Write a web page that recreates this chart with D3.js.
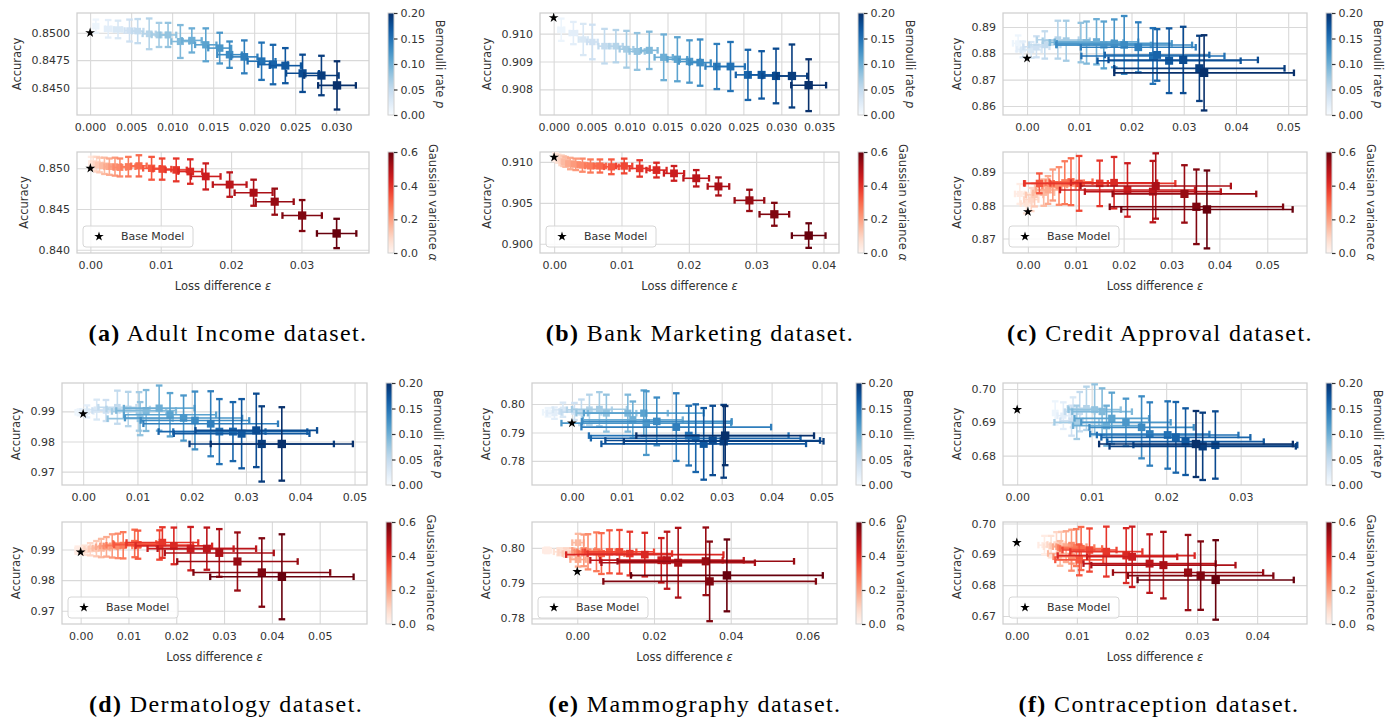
<!DOCTYPE html>
<html><head><meta charset="utf-8">
<script src="https://cdn.jsdelivr.net/npm/d3@7"></script>
<style>
body{margin:0;background:#fff;}
svg{display:block;}
text{font-family:"DejaVu Sans",sans-serif;}
</style>
</head><body>
<svg id="chart" width="1385" height="719"></svg>
<script>
// ---------------- DATA ----------------
// Noise rates (colour values) for each point, in order
const bernRates  = [0.01,0.02,0.03,0.04,0.05,0.06,0.07,0.08,0.09,0.10,0.11,0.12,0.13,0.14,0.15,0.16,0.17,0.18,0.19,0.20];
const gaussRates = [0.03,0.06,0.09,0.12,0.15,0.18,0.21,0.24,0.27,0.30,0.33,0.36,0.39,0.42,0.45,0.48,0.51,0.54,0.57,0.60];

// rows: [loss difference, accuracy, loss-diff error, accuracy error]
const adultBern = [
 [0.0007,0.8506,0.0003,0.0006],[0.0022,0.85036,0.0004,0.0008],[0.0034,0.8503,0.0005,0.0008],[0.0048,0.8502,0.0006,0.0010],
 [0.0058,0.85015,0.0007,0.0011],[0.0072,0.8499,0.0008,0.0014],[0.0084,0.8498,0.0009,0.0011],[0.0095,0.8498,0.0010,0.0011],
 [0.0110,0.8492,0.0011,0.0015],[0.0124,0.8493,0.0012,0.0011],[0.0141,0.8489,0.0013,0.0015],[0.0158,0.8486,0.0014,0.0014],
 [0.0170,0.8480,0.0015,0.0012],[0.0188,0.8478,0.0016,0.0015],[0.0209,0.8474,0.0017,0.0017],[0.0223,0.8471,0.0018,0.0018],
 [0.0238,0.8470,0.0019,0.0016],[0.0259,0.8463,0.0020,0.0017],[0.0282,0.8461,0.0021,0.0018],[0.0301,0.8452,0.0023,0.0022]];
const adultGauss = [
 [0.0001,0.8506,0.0002,0.0008],[0.0004,0.8506,0.0003,0.0008],[0.0009,0.8505,0.0004,0.0009],[0.0013,0.8504,0.0005,0.0009],
 [0.0020,0.8503,0.0006,0.0010],[0.0027,0.8502,0.0007,0.0010],[0.0035,0.8502,0.0008,0.0011],[0.0042,0.8501,0.0009,0.0011],
 [0.0054,0.8502,0.0010,0.0012],[0.0069,0.8503,0.0011,0.0013],[0.0087,0.8500,0.0012,0.0014],[0.0102,0.8499,0.0013,0.0013],
 [0.0122,0.8498,0.0015,0.0014],[0.0142,0.8496,0.0017,0.0015],[0.0164,0.8490,0.0021,0.0016],[0.0198,0.8480,0.0024,0.0015],
 [0.0232,0.8470,0.0027,0.0016],[0.0262,0.8459,0.0027,0.0016],[0.0301,0.8442,0.0028,0.0019],[0.0350,0.8420,0.0028,0.0018]];
const bankBern = [
 [0.0010,0.91014,0.0004,0.00040],[0.0026,0.91002,0.0005,0.00040],[0.0039,0.90979,0.0006,0.00056],[0.0051,0.90970,0.0007,0.00062],
 [0.0067,0.90955,0.0008,0.00062],[0.0082,0.90955,0.0009,0.00058],[0.0096,0.90944,0.0009,0.00066],[0.0110,0.90936,0.0010,0.00066],
 [0.0126,0.90940,0.0011,0.00067],[0.0145,0.90915,0.0012,0.00082],[0.0163,0.90908,0.0013,0.00079],[0.0179,0.90900,0.0014,0.00076],
 [0.0193,0.90896,0.0014,0.00083],[0.0215,0.90882,0.0015,0.00081],[0.0233,0.90882,0.0019,0.00088],[0.0256,0.90852,0.0016,0.00090],
 [0.0274,0.90852,0.0017,0.00085],[0.0293,0.90848,0.0018,0.00098],[0.0314,0.90848,0.0020,0.00113],[0.0336,0.90815,0.0023,0.00093]];
const bankGauss = [
 [0.0002,0.9106,0.0002,0.0005],[0.0006,0.9104,0.0003,0.0005],[0.0011,0.9102,0.0004,0.0006],[0.0014,0.9101,0.0004,0.0006],
 [0.0017,0.9100,0.0005,0.0006],[0.0024,0.9098,0.0006,0.0007],[0.0032,0.9097,0.0006,0.0007],[0.0042,0.9096,0.0007,0.0008],
 [0.0054,0.9095,0.0008,0.0008],[0.0068,0.9095,0.0009,0.0008],[0.0085,0.9094,0.0011,0.0009],[0.0104,0.9095,0.0012,0.0009],
 [0.0127,0.9092,0.0015,0.0010],[0.0152,0.9090,0.0015,0.0009],[0.0178,0.9086,0.0015,0.0009],[0.0211,0.9080,0.0019,0.0010],
 [0.0244,0.9070,0.0016,0.0011],[0.0290,0.9053,0.0022,0.0013],[0.0327,0.9036,0.0022,0.0014],[0.0378,0.9010,0.0025,0.0015]];
const creditBern = [
 [-0.0017,0.8838,0.0010,0.0030],[-0.0008,0.8815,0.0012,0.0030],[0.0008,0.8813,0.0020,0.0030],[0.0018,0.8825,0.0025,0.0040],
 [0.0034,0.8832,0.0030,0.0052],[0.0059,0.8852,0.0040,0.0072],[0.0075,0.8848,0.0045,0.0076],[0.0103,0.8841,0.0060,0.0075],
 [0.0114,0.8841,0.0070,0.0080],[0.0133,0.8844,0.0080,0.0086],[0.0147,0.8832,0.0090,0.0089],[0.0167,0.8838,0.0110,0.0091],
 [0.0186,0.8832,0.0130,0.0110],[0.0213,0.8823,0.0110,0.0095],[0.0241,0.8790,0.0137,0.0106],[0.0249,0.8794,0.0100,0.0098],
 [0.0272,0.8772,0.0137,0.0123],[0.0299,0.8775,0.0143,0.0126],[0.0330,0.8743,0.0163,0.0124],[0.0339,0.8726,0.0172,0.0143]];
const creditGauss = [
 [-0.0017,0.8835,0.0010,0.0030],[-0.0003,0.8806,0.0012,0.0030],[0.0007,0.8818,0.0015,0.0035],[0.0014,0.8832,0.0018,0.0035],
 [0.0033,0.8839,0.0022,0.0040],[0.0042,0.8847,0.0025,0.0042],[0.0052,0.8862,0.0030,0.0047],[0.0065,0.8859,0.0035,0.0057],
 [0.0077,0.8869,0.0040,0.0065],[0.0090,0.8872,0.0045,0.0071],[0.0024,0.8867,0.0030,0.0030],[0.0107,0.8867,0.0060,0.0083],
 [0.0150,0.8867,0.0158,0.0069],[0.0180,0.8869,0.0090,0.0078],[0.0208,0.8847,0.0141,0.0081],[0.0261,0.8842,0.0142,0.0093],
 [0.0267,0.8859,0.0157,0.0099],[0.0327,0.8835,0.0150,0.0087],[0.0352,0.8796,0.0181,0.0113],[0.0374,0.8788,0.0179,0.0118]];
const dermBern = [
 [-0.0006,0.9897,0.0008,0.0010],[0.0007,0.9900,0.0012,0.0020],[0.0025,0.9906,0.0018,0.0033],[0.0042,0.9903,0.0025,0.0035],
 [0.0063,0.9914,0.0035,0.0055],[0.0083,0.9908,0.0040,0.0057],[0.0103,0.9900,0.0050,0.0064],[0.0105,0.9876,0.0060,0.0055],
 [0.0116,0.9903,0.0055,0.0068],[0.0140,0.9911,0.0065,0.0075],[0.0160,0.9889,0.0085,0.0072],[0.0185,0.9878,0.0108,0.0075],
 [0.0206,0.9870,0.0100,0.0096],[0.0235,0.9859,0.0124,0.0108],[0.0251,0.9833,0.0085,0.0108],[0.0276,0.9833,0.0137,0.0098],
 [0.0292,0.9826,0.0125,0.0115],[0.0319,0.9837,0.0112,0.0122],[0.0329,0.9792,0.0133,0.0125],[0.0366,0.9792,0.0131,0.0122]];
const dermGauss = [
 [-0.0006,0.9898,0.0005,0.0012],[0.0008,0.9898,0.0008,0.0015],[0.0020,0.9901,0.0012,0.0020],[0.0033,0.9903,0.0015,0.0025],
 [0.0043,0.9905,0.0018,0.0030],[0.0054,0.9909,0.0022,0.0032],[0.0066,0.9912,0.0025,0.0038],[0.0078,0.9912,0.0030,0.0040],
 [0.0089,0.9914,0.0035,0.0043],[0.0113,0.9920,0.0045,0.0045],[0.0120,0.9916,0.0050,0.0046],[0.0165,0.9915,0.0070,0.0048],
 [0.0171,0.9923,0.0075,0.0050],[0.0195,0.9912,0.0080,0.0060],[0.0230,0.9903,0.0090,0.0071],[0.0264,0.9903,0.0103,0.0069],
 [0.0290,0.9889,0.0114,0.0078],[0.0328,0.9861,0.0126,0.0095],[0.0379,0.9825,0.0143,0.0112],[0.0421,0.9811,0.0150,0.0139]];
const mammoBern = [
 [-0.0048,0.7971,0.0010,0.0015],[-0.0035,0.7968,0.0015,0.0020],[-0.0018,0.7980,0.0020,0.0025],[0.0005,0.7974,0.0030,0.0030],
 [0.0019,0.7971,0.0040,0.0045],[0.0035,0.7980,0.0045,0.0053],[0.0055,0.7982,0.0055,0.0060],[0.0069,0.7968,0.0060,0.0065],
 [0.0112,0.7968,0.0080,0.0065],[0.0122,0.7945,0.0100,0.0064],[0.0144,0.7968,0.0120,0.0080],[0.0149,0.7933,0.0170,0.0112],
 [0.0170,0.7939,0.0150,0.0084],[0.0209,0.7919,0.0190,0.0119],[0.0234,0.7889,0.0200,0.0105],[0.0248,0.7880,0.0210,0.0119],
 [0.0264,0.7860,0.0205,0.0126],[0.0282,0.7872,0.0215,0.0122],[0.0304,0.7869,0.0200,0.0128],[0.0307,0.7889,0.0178,0.0104]];
const mammoGauss = [
 [-0.0079,0.7993,0.0010,0.0008],[-0.0046,0.7989,0.0015,0.0010],[-0.0029,0.7987,0.0020,0.0012],[-0.0013,0.7984,0.0025,0.0015],
 [0.0002,0.8015,0.0015,0.0025],[0.0002,0.7967,0.0020,0.0020],[0.0017,0.7993,0.0030,0.0045],[0.0028,0.7989,0.0035,0.0050],
 [0.0050,0.7989,0.0050,0.0055],[0.0063,0.7984,0.0060,0.0058],[0.0084,0.7989,0.0070,0.0061],[0.0110,0.7989,0.0090,0.0062],
 [0.0137,0.7984,0.0110,0.0062],[0.0176,0.7981,0.0205,0.0062],[0.0219,0.7965,0.0160,0.0063],[0.0234,0.7965,0.0200,0.0081],
 [0.0263,0.7958,0.0200,0.0099],[0.0335,0.7962,0.0230,0.0096],[0.0345,0.7905,0.0277,0.0113],[0.0390,0.7922,0.0250,0.0102]];
const contraBern = [
 [0.0051,0.6928,0.0003,0.0035],[0.0062,0.6920,0.0008,0.0040],[0.0075,0.6930,0.0010,0.0045],[0.0073,0.6905,0.0015,0.0045],
 [0.0084,0.6932,0.0020,0.0059],[0.0093,0.6942,0.0025,0.0065],[0.0080,0.6900,0.0030,0.0050],[0.0104,0.6938,0.0035,0.0076],
 [0.0114,0.6932,0.0040,0.0070],[0.0120,0.6890,0.0045,0.0060],[0.0127,0.6912,0.0050,0.0077],[0.0146,0.6900,0.0060,0.0071],
 [0.0167,0.6885,0.0070,0.0093],[0.0178,0.6865,0.0080,0.0095],[0.0202,0.6862,0.0095,0.0101],[0.0213,0.6855,0.0100,0.0106],
 [0.0226,0.6842,0.0105,0.0100],[0.0266,0.6832,0.0110,0.0101],[0.0249,0.6828,0.0125,0.0101],[0.0240,0.6835,0.0130,0.0099]];
const contraGauss = [
 [0.0046,0.6930,0.0010,0.0030],[0.0057,0.6925,0.0012,0.0035],[0.0066,0.6932,0.0015,0.0040],[0.0074,0.6928,0.0018,0.0045],
 [0.0072,0.6903,0.0020,0.0040],[0.0082,0.6925,0.0022,0.0050],[0.0091,0.6925,0.0025,0.0055],[0.0091,0.6892,0.0030,0.0045],
 [0.0099,0.6922,0.0030,0.0060],[0.0107,0.6919,0.0035,0.0070],[0.0104,0.6882,0.0040,0.0050],[0.0121,0.6914,0.0045,0.0070],
 [0.0149,0.6909,0.0060,0.0081],[0.0182,0.6896,0.0114,0.0089],[0.0192,0.6892,0.0075,0.0098],[0.0221,0.6870,0.0110,0.0095],
 [0.0244,0.6865,0.0120,0.0108],[0.0285,0.6841,0.0125,0.0122],[0.0306,0.6831,0.0121,0.0111],[0.0331,0.6817,0.0130,0.0129]];

// Base model: [loss difference, accuracy]
const adultBase  = [0, 0.8500];
const bankBase   = [0, 0.91057];
const creditBase = [0, 0.8781];
const dermBase   = [0, 0.9892];
const mammoBase  = [0, 0.7933];
const contraBase = [0, 0.6938];

// Tick values
const adultBernXTicks  = [0,0.005,0.010,0.015,0.020,0.025,0.030];
const adultBernYTicks  = [0.8450,0.8475,0.8500];
const adultGaussXTicks = [0,0.01,0.02,0.03];
const adultGaussYTicks = [0.840,0.845,0.850];
const bankBernXTicks   = [0,0.005,0.010,0.015,0.020,0.025,0.030,0.035];
const bankBernYTicks   = [0.908,0.909,0.910];
const bankGaussXTicks  = [0,0.01,0.02,0.03,0.04];
const bankGaussYTicks  = [0.900,0.905,0.910];
const creditXTicks     = [0,0.01,0.02,0.03,0.04,0.05];
const creditBernYTicks = [0.86,0.87,0.88,0.89];
const creditGaussYTicks= [0.87,0.88,0.89];
const dermXTicks       = [0,0.01,0.02,0.03,0.04,0.05];
const dermYTicks       = [0.97,0.98,0.99];
const mammoBernXTicks  = [0,0.01,0.02,0.03,0.04,0.05];
const mammoGaussXTicks = [0,0.02,0.04,0.06];
const mammoYTicks      = [0.78,0.79,0.80];
const contraBernXTicks = [0,0.01,0.02,0.03];
const contraGaussXTicks= [0,0.01,0.02,0.03,0.04];
const contraBernYTicks = [0.68,0.69,0.70];
const contraGaussYTicks= [0.67,0.68,0.69,0.70];
const bernCbTicks  = [0,0.05,0.10,0.15,0.20];
const gaussCbTicks = [0,0.2,0.4,0.6];

const captions = [
  ["(a)", " Adult Income dataset."],
  ["(b)", " Bank Marketing dataset."],
  ["(c)", " Credit Approval dataset."],
  ["(d)", " Dermatology dataset."],
  ["(e)", " Mammography dataset."],
  ["(f)", " Contraception dataset."]
];

// ---------------- DRAWING ----------------
const svg = d3.select("#chart");
const defs = svg.append("defs");
let uid = 0;
const TXT = "#333333";
const GRID = "#d9d9d9";

function drawPanel(p) {
  const id = uid++;
  const g = svg.append("g");
  const x = d3.scaleLinear().domain(p.xDomain).range([p.left, p.right]);
  const y = d3.scaleLinear().domain(p.yDomain).range([p.bottom, p.top]);
  const w = p.right - p.left, h = p.bottom - p.top;

  // grid
  g.append("g").attr("transform", `translate(0,${p.bottom})`)
    .call(d3.axisBottom(x).tickValues(p.xTicks).tickSize(-h).tickFormat(""))
    .call(s => { s.select(".domain").remove(); s.selectAll("line").attr("stroke", GRID).attr("stroke-width", 1.1); });
  g.append("g").attr("transform", `translate(${p.left},0)`)
    .call(d3.axisLeft(y).tickValues(p.yTicks).tickSize(-w).tickFormat(""))
    .call(s => { s.select(".domain").remove(); s.selectAll("line").attr("stroke", GRID).attr("stroke-width", 1.1); });

  // tick labels
  g.append("g").attr("transform", `translate(0,${p.bottom})`)
    .call(d3.axisBottom(x).tickValues(p.xTicks).tickSize(0).tickPadding(8).tickFormat(d3.format(p.xFmt)))
    .call(s => { s.select(".domain").remove(); s.selectAll("text").attr("fill", TXT).style("font-size", "11px").style("font-family", "DejaVu Sans"); });
  const ya = g.append("g").attr("transform", `translate(${p.left},0)`)
    .call(d3.axisLeft(y).tickValues(p.yTicks).tickSize(0).tickPadding(7).tickFormat(d3.format(p.yFmt)))
    .call(s => { s.select(".domain").remove(); s.selectAll("text").attr("fill", TXT).style("font-size", "11px").style("font-family", "DejaVu Sans"); });
  let maxW = 0;
  ya.selectAll("text").each(function(){ maxW = Math.max(maxW, this.getComputedTextLength()); });

  // frame
  g.append("rect").attr("x", p.left).attr("y", p.top).attr("width", w).attr("height", h)
    .attr("fill", "none").attr("stroke", "#cfcfcf").attr("stroke-width", 1.25);

  // y label
  g.append("text").attr("transform", `translate(${p.left - 7 - maxW - 11},${(p.top + p.bottom) / 2}) rotate(-90)`)
    .attr("text-anchor", "middle").attr("fill", TXT).style("font-size", "11.5px").text("Accuracy");
  if (p.xLabel) {
    const t = g.append("text").attr("x", (p.left + p.right) / 2).attr("y", p.bottom + 37)
      .attr("text-anchor", "middle").attr("fill", TXT).style("font-size", "11.5px");
    t.append("tspan").text("Loss difference ");
    t.append("tspan").style("font-style", "italic").text("ε");
  }

  // clip
  defs.append("clipPath").attr("id", "clip" + id).append("rect")
    .attr("x", p.left).attr("y", p.top).attr("width", w).attr("height", h);
  const pg = g.append("g").attr("clip-path", `url(#clip${id})`);

  // points with error bars
  const cap = 3.3;
  p.data.forEach((d, i) => {
    const [vx, vy, ex, ey] = d;
    const t = p.rates[i] / p.cmax;
    const c = p.interp(t);
    const s = 6 + 2.4 * t;
    const e = pg.append("g").attr("stroke", c);
    const px = x(vx), py = y(vy);
    const x0 = x(vx - ex), x1 = x(vx + ex), y0 = y(vy - ey), y1 = y(vy + ey);
    e.append("line").attr("x1", x0).attr("x2", x1).attr("y1", py).attr("y2", py).attr("stroke-width", 1.6);
    e.append("line").attr("x1", px).attr("x2", px).attr("y1", y0).attr("y2", y1).attr("stroke-width", 1.6);
    [x0, x1].forEach(xx => e.append("line").attr("x1", xx).attr("x2", xx).attr("y1", py - cap).attr("y2", py + cap).attr("stroke-width", 2.3));
    [y0, y1].forEach(yy => e.append("line").attr("x1", px - cap).attr("x2", px + cap).attr("y1", yy).attr("y2", yy).attr("stroke-width", 2.3));
    pg.append("rect").attr("x", px - s / 2).attr("y", py - s / 2).attr("width", s).attr("height", s).attr("fill", c);
  });

  // base model star
  pg.append("path").attr("d", d3.symbol(d3.symbolStar, 30)())
    .attr("transform", `translate(${x(p.base[0])},${y(p.base[1])})`).attr("fill", "#000");

  // legend
  if (p.legend) {
    const lx = p.left + 6, ly = p.bottom - 6 - 21;
    g.append("rect").attr("x", lx).attr("y", ly).attr("width", 110).attr("height", 21).attr("rx", 3)
      .attr("fill", "#fff").attr("fill-opacity", 0.85).attr("stroke", "#d6d6d6");
    g.append("path").attr("d", d3.symbol(d3.symbolStar, 28)())
      .attr("transform", `translate(${lx + 16},${ly + 10.5})`).attr("fill", "#000");
    g.append("text").attr("x", lx + 38).attr("y", ly + 10.5).attr("dy", "0.35em")
      .attr("fill", TXT).style("font-size", "11px").text("Base Model");
  }

  // colorbar
  const cbx = p.right + 19, cbw = 6;
  const gid = "grad" + id;
  const grad = defs.append("linearGradient").attr("id", gid).attr("x1", 0).attr("y1", 1).attr("x2", 0).attr("y2", 0);
  d3.range(0, 1.0001, 0.05).forEach(t => grad.append("stop").attr("offset", t).attr("stop-color", p.interp(t)));
  g.append("rect").attr("x", cbx).attr("y", p.top).attr("width", cbw).attr("height", h).attr("fill", `url(#${gid})`)
    .attr("stroke", "#d0d0d0").attr("stroke-width", 1);
  const cb = d3.scaleLinear().domain([0, p.cmax]).range([p.bottom, p.top]);
  const ca = g.append("g").attr("transform", `translate(${cbx + cbw},0)`)
    .call(d3.axisRight(cb).tickValues(p.cbTicks).tickSize(3.5).tickPadding(3).tickFormat(d3.format(p.cbFmt)))
    .call(s => { s.select(".domain").remove(); s.selectAll("line").attr("stroke", "#333").attr("stroke-width", 1.2);
                 s.selectAll("text").attr("fill", TXT).style("font-size", "11px").style("font-family", "DejaVu Sans"); });
  let cw = 0;
  ca.selectAll("text").each(function(){ cw = Math.max(cw, this.getComputedTextLength()); });
  const lt = g.append("text").attr("transform", `translate(${cbx + cbw + 6.5 + cw + 11},${(p.top + p.bottom) / 2}) rotate(90)`)
    .attr("text-anchor", "middle").attr("fill", TXT).style("font-size", "11.5px");
  lt.append("tspan").text(p.cbLabel[0]);
  lt.append("tspan").style("font-style", "italic").text(p.cbLabel[1]);
}

const cols = [
  {l1: 77, r1: 369, l2: 62, r2: 367, cx1: 228, cx2: 226},
  {l1: 540, r1: 839, l2: 532, r2: 837, cx1: 700, cx2: 695},
  {l1: 1003, r1: 1307, l2: 1003, r2: 1307, cx1: 1160, cx2: 1159}
];
const rowsY = [{t1: 13, b1: 115, t2: 152, b2: 253, cap: 341}, {t1: 383, b1: 485, t2: 522, b2: 624, cap: 712}];

const datasets = [
  {bern: adultBern, gauss: adultGauss, base: adultBase,
   bx: adultBernXTicks, by: adultBernYTicks, gx: adultGaussXTicks, gy: adultGaussYTicks,
   bxd: [-0.0016, 0.034], byd: [0.8425, 0.8518], gxd: [-0.0019, 0.0396], gyd: [0.8396, 0.8520],
   bxf: ".3f", byf: ".4f", gxf: ".2f", gyf: ".3f"},
  {bern: bankBern, gauss: bankGauss, base: bankBase,
   bx: bankBernXTicks, by: bankBernYTicks, gx: bankGaussXTicks, gy: bankGaussYTicks,
   bxd: [-0.0018, 0.0376], byd: [0.90708, 0.91074], gxd: [-0.0021, 0.0423], gyd: [0.89887, 0.91121],
   bxf: ".3f", byf: ".3f", gxf: ".2f", gyf: ".3f"},
  {bern: creditBern, gauss: creditGauss, base: creditBase,
   bx: creditXTicks, by: creditBernYTicks, gx: creditXTicks, gy: creditGaussYTicks,
   bxd: [-0.0046, 0.0536], byd: [0.85657, 0.89534], gxd: [-0.0052, 0.0583], gyd: [0.8656, 0.8962],
   bxf: ".2f", byf: ".2f", gxf: ".2f", gyf: ".2f"},
  {bern: dermBern, gauss: dermGauss, base: dermBase,
   bx: dermXTicks, by: dermYTicks, gx: dermXTicks, gy: dermYTicks,
   bxd: [-0.0039, 0.0523], byd: [0.96556, 0.99944], gxd: [-0.0039, 0.0599], gyd: [0.96565, 0.99902],
   bxf: ".2f", byf: ".2f", gxf: ".2f", gyf: ".2f"},
  {bern: mammoBern, gauss: mammoGauss, base: mammoBase,
   bx: mammoBernXTicks, by: mammoYTicks, gx: mammoGaussXTicks, gy: mammoYTicks,
   bxd: [-0.0080, 0.0531], byd: [0.77153, 0.80741], gxd: [-0.0118, 0.0677], gyd: [0.7784, 0.80736],
   bxf: ".2f", byf: ".2f", gxf: ".2f", gyf: ".2f"},
  {bern: contraBern, gauss: contraGauss, base: contraBase,
   bx: contraBernXTicks, by: contraBernYTicks, gx: contraGaussXTicks, gy: contraGaussYTicks,
   bxd: [-0.0019, 0.0389], byd: [0.6712, 0.7018], gxd: [-0.0023, 0.0483], gyd: [0.6674, 0.7005],
   bxf: ".2f", byf: ".2f", gxf: ".2f", gyf: ".2f"}
];

datasets.forEach((ds, k) => {
  const row = Math.floor(k / 3), col = k % 3;
  const c = cols[col], r = rowsY[row];
  const left = row === 0 ? c.l1 : c.l2, right = row === 0 ? c.r1 : c.r2;
  drawPanel({left, right, top: r.t1, bottom: r.b1, xDomain: ds.bxd, yDomain: ds.byd,
    xTicks: ds.bx, yTicks: ds.by, xFmt: ds.bxf, yFmt: ds.byf, data: ds.bern, rates: bernRates,
    cmax: 0.2, interp: d3.interpolateBlues, cbTicks: bernCbTicks, cbFmt: ".2f",
    cbLabel: ["Bernoulli rate ", "p"], base: ds.base, legend: false, xLabel: false});
  drawPanel({left, right, top: r.t2, bottom: r.b2, xDomain: ds.gxd, yDomain: ds.gyd,
    xTicks: ds.gx, yTicks: ds.gy, xFmt: ds.gxf, yFmt: ds.gyf, data: ds.gauss, rates: gaussRates,
    cmax: 0.6, interp: d3.interpolateReds, cbTicks: gaussCbTicks, cbFmt: ".1f",
    cbLabel: ["Gaussian variance ", "α"], base: ds.base, legend: true, xLabel: true});
  const cx = row === 0 ? c.cx1 : c.cx2;
  const t = svg.append("text").attr("x", cx).attr("y", r.cap).attr("text-anchor", "middle")
    .attr("fill", "#000").style("font-family", "'Liberation Serif', serif").style("font-size", "24px")
    .style("letter-spacing", "1.4px");
  t.append("tspan").style("font-weight", "bold").text(captions[k][0]);
  t.append("tspan").text(captions[k][1]);
});
</script>
</body></html>
